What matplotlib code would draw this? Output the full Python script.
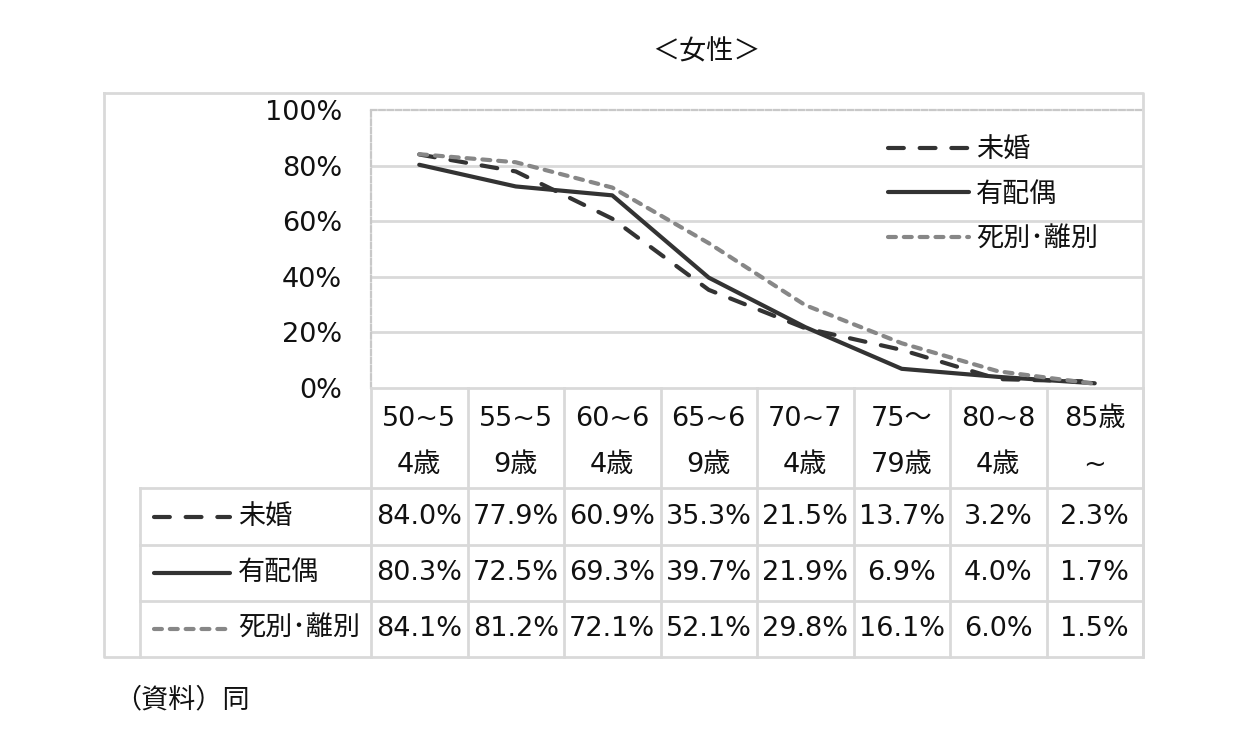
import matplotlib
matplotlib.use("Agg")
import matplotlib.pyplot as plt
from matplotlib import transforms
from matplotlib.lines import Line2D

plt.rcParams['font.family'] = ['DejaVu Sans', 'Noto Sans CJK JP']

# ---------------- data ----------------
title = "＜女性＞"
categories = ["50~5\n4歳", "55~5\n9歳", "60~6\n4歳", "65~6\n9歳",
              "70~7\n4歳", "75～\n79歳", "80~8\n4歳", "85歳\n~"]
series_names = ["未婚", "有配偶", "死別･離別"]
unmarried = [84.0, 77.9, 60.9, 35.3, 21.5, 13.7, 3.2, 2.3]
married = [80.3, 72.5, 69.3, 39.7, 21.9, 6.9, 4.0, 1.7]
widowed = [84.1, 81.2, 72.1, 52.1, 29.8, 16.1, 6.0, 1.5]
yticks = [0, 20, 40, 60, 80, 100]
footnote = "（資料）同"

# ---------------- style ----------------
W, H = 1247, 744
DARK = "#333333"
GRAY = "#878787"
GRID = "#d9d9d9"
LW = 3.0
FS = 19.5
TXT = "#111111"
styles = [
    dict(color=DARK, lw=LW, dashes=(3.8, 3.8), dash_capstyle="round"),
    dict(color=DARK, lw=LW, solid_capstyle="round"),
    dict(color=GRAY, lw=LW, dashes=(1.9, 1.9), dash_capstyle="round"),
]
values = [unmarried, married, widowed]

fig = plt.figure(figsize=(W / 100, H / 100), dpi=100)
fig.patch.set_facecolor("white")
P = transforms.Affine2D().scale(1 / W, -1 / H).translate(0, 1) + fig.transFigure

# plot area in pixels
L, R, T, B = 371, 1143, 110, 388
ax = fig.add_axes([L / W, 1 - B / H, (R - L) / W, (B - T) / H])
ax.set_xlim(-0.5, len(categories) - 0.5)
ax.set_ylim(0, 100)
ax.set_xticks([])
ax.set_yticks(yticks)
ax.set_yticklabels([f"{v}%" for v in yticks], fontsize=FS, color=TXT)
ax.tick_params(axis="y", length=0, pad=21)
for y in yticks[1:-1]:
    ax.axhline(y, color=GRID, lw=2.0, zorder=0)
for s in ["top", "left"]:
    ax.spines[s].set_color("#c8c8c8")
    ax.spines[s].set_linestyle((0, (2.5, 1.2)))
    ax.spines[s].set_linewidth(1.6)
ax.spines["bottom"].set_color(GRID)
ax.spines["bottom"].set_linewidth(2.0)
ax.spines["right"].set_visible(False)

x = list(range(len(categories)))
handles = []
for name, vals, st in zip(series_names, values, styles):
    ln, = ax.plot(x, vals, label=name, zorder=3, **st)
    handles.append(ln)

leg = ax.legend(handles=handles, loc="upper left", bbox_to_anchor=(888, 137),
                bbox_transform=P, frameon=False, fontsize=FS,
                handlelength=3.0, handletextpad=0.25, labelspacing=0.70,
                borderpad=0, borderaxespad=0)
for t in leg.get_texts():
    t.set_color(TXT)

# ---------------- outer frame & table ----------------
def pline(xs, ys, **kw):
    fig.add_artist(Line2D(xs, ys, transform=P, color=GRID, lw=2.0, **kw))

pline([104, 1143, 1143, 104, 104], [93, 93, 657, 657, 93])
for yy in [488, 545, 601]:
    pline([140, 1143], [yy, yy])
pline([140, 140], [488, 657])

blend = transforms.blended_transform_factory(ax.transData, P)
for i in range(len(categories) + 1):
    ax.plot([i - 0.5, i - 0.5], [388, 657], transform=blend, color=GRID,
            lw=2.0, clip_on=False)

for i, cat in enumerate(categories):
    ax.text(i, 442, cat, transform=blend, ha="center", va="center",
            fontsize=FS, linespacing=1.95, color=TXT)

row_y = [517, 573, 629]
for name, vals, st, ry in zip(series_names, values, styles, row_y):
    fig.add_artist(Line2D([154, 230], [ry, ry], transform=P, **st))
    fig.text(238 / W, 1 - ry / H, name, ha="left", va="center",
             fontsize=FS, color=TXT)
    for i, v in enumerate(vals):
        ax.text(i, ry, f"{v:.1f}%", transform=blend, ha="center",
                va="center", fontsize=FS, color=TXT)

fig.text(706 / W, 1 - 52 / H, title, ha="center", va="center",
         fontsize=FS, family=["Noto Sans CJK JP"], color=TXT)
fig.text(114 / W, 1 - 700 / H, footnote, ha="left", va="center",
         fontsize=FS, family=["Noto Sans CJK JP"], color=TXT)

fig.savefig("out.png", dpi=100, facecolor="white")
